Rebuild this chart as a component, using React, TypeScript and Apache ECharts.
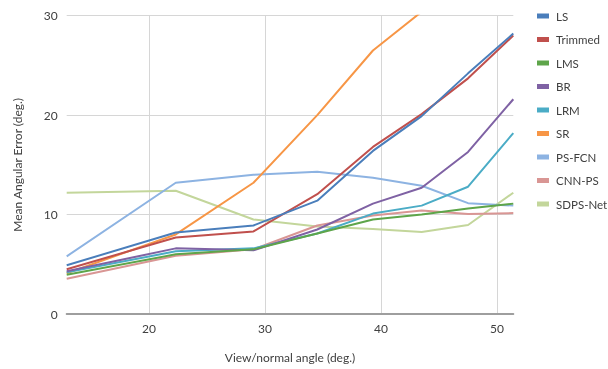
import React, { useEffect, useRef } from "react";
import * as echarts from "echarts";

const angles = [12.9, 22.3, 29.0, 34.5, 39.3, 43.5, 47.5, 51.4];
const seriesNames = ["LS", "Trimmed", "LMS", "BR", "LRM", "SR", "PS-FCN", "CNN-PS", "SDPS-Net"];
const colors = ["#4a7ebb", "#c0504d", "#5ea54a", "#7f62a4", "#4bacc6", "#f79646", "#8db3e2", "#d99694", "#c3d69b"];
const LS = [4.9, 8.2, 8.9, 11.4, 16.4, 19.9, 24.2, 28.2];
const Trimmed = [4.5, 7.7, 8.3, 12.05, 16.8, 20.1, 23.7, 28.0];
const LMS = [3.95, 6.0, 6.5, 8.1, 9.5, 10.0, 10.6, 11.1];
const BR = [4.3, 6.6, 6.4, 8.5, 11.1, 12.7, 16.3, 21.6];
const LRM = [4.2, 6.3, 6.6, 8.1, 10.1, 10.9, 12.8, 18.2];
const SR = [4.1, 8.0, 13.2, 20.0, 26.5, 30.4, null, null];
const PSFCN = [5.8, 13.2, 14.0, 14.3, 13.7, 12.9, 11.15, 10.9];
const CNNPS = [3.55, 5.85, 6.5, 8.9, 9.9, 10.4, 10.05, 10.15];
const SDPSNet = [12.2, 12.4, 9.5, 8.8, 8.55, 8.25, 8.95, 12.2];
const allValues = [LS, Trimmed, LMS, BR, LRM, SR, PSFCN, CNNPS, SDPSNet];
const xTicks = [20, 30, 40, 50];
const yTicks = [0, 10, 20, 30];

const FONT = "Lato";

export default function App() {
  const ref = useRef<HTMLDivElement>(null);
  useEffect(() => {
    if (!ref.current) return;
    const chart = echarts.init(ref.current, null, { renderer: "svg" });
    chart.setOption({
      animation: false,
      textStyle: { fontFamily: FONT },
      grid: { left: 66.7, right: 94.7, top: 15.7, bottom: 55 },
      legend: {
        orient: "vertical",
        left: 537,
        top: 9,
        icon: "rect",
        itemWidth: 12,
        itemHeight: 5,
        itemGap: 9.5,
        padding: 0,
        data: seriesNames,
        textStyle: { fontFamily: FONT, fontSize: 11.5, color: "#404040", lineHeight: 14, padding: [0, 0, 0, 2] },
      },
      xAxis: {
        type: "value",
        min: angles[0],
        max: angles[angles.length - 1],
        name: "View/normal angle (deg.)",
        nameLocation: "middle",
        nameGap: 37,
        nameTextStyle: { fontFamily: FONT, fontSize: 12, color: "#404040" },
        axisLine: { show: true, onZero: false, lineStyle: { color: "#9e9e9e", width: 2 } },
        axisTick: { show: false, customValues: xTicks },
        axisLabel: { customValues: xTicks, fontFamily: FONT, fontSize: 12, color: "#404040", margin: 8 },
        splitLine: { show: true, lineStyle: { color: "#d6d6d6", width: 1 } },
      },
      yAxis: {
        type: "value",
        min: 0,
        max: 30,
        interval: 10,
        name: "Mean Angular Error (deg.)",
        nameLocation: "middle",
        nameGap: 43,
        nameTextStyle: { fontFamily: FONT, fontSize: 12, color: "#404040" },
        axisLine: { show: false },
        axisTick: { show: false },
        axisLabel: {
          fontFamily: FONT,
          fontSize: 12,
          color: "#404040",
          margin: 9,
          formatter: (v: number) => (yTicks.includes(v) ? String(v) : ""),
        },
        splitLine: { show: true, lineStyle: { color: "#d6d6d6", width: 1 } },
      },
      series: seriesNames.map((name, i) => ({
        name,
        type: "line",
        data: angles.map((a, j) => [a, allValues[i][j]]),
        showSymbol: false,
        symbol: "none",
        connectNulls: false,
        clip: true,
        color: colors[i],
        lineStyle: { color: colors[i], width: 2 },
        z: 10 - i,
      })),
    });
    return () => chart.dispose();
  }, []);
  return <div ref={ref} style={{ position: "fixed", left: 0, top: 0, width: 608, height: 369 }} />;
}
